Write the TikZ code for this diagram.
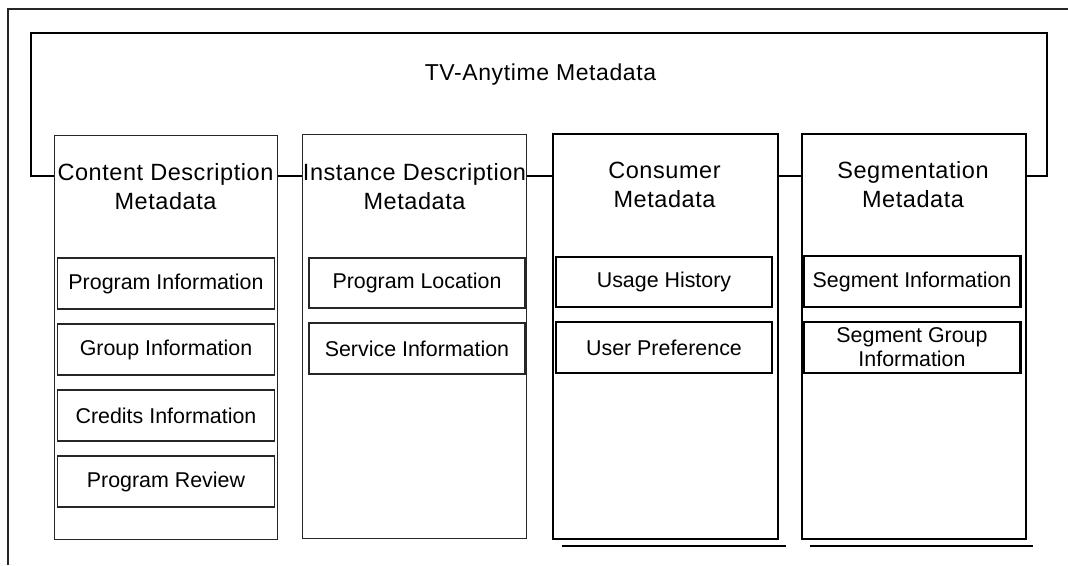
\documentclass[tikz,border=0pt]{standalone}
\usepackage{fontspec}
\setmainfont{Liberation Sans}
\newfontfamily\titlefont[LetterSpace=2.6]{Liberation Sans}
\newfontfamily\headfont[LetterSpace=2.4]{Liberation Sans}
\begin{document}
\begin{tikzpicture}[x=1pt,y=-1pt,
  frameline/.style={line width=1.1pt,draw=black!85},
  link/.style={line width=1.9pt,draw=black},
  thincol/.style={draw=black!85,line width=1.1pt,inner sep=0pt,anchor=north west,minimum width=223pt,minimum height=404pt},
  thickcol/.style={draw=black,line width=2.3pt,inner sep=0pt,anchor=north west,minimum width=225pt,minimum height=405pt},
  head/.style={align=center,inner sep=0pt,font=\headfont\fontsize{23.5}{29}\selectfont},
  thinsub/.style={draw=black!85,line width=1.1pt,inner sep=0pt,minimum width=217pt,minimum height=51pt,align=center,font=\fontsize{21.4}{24}\selectfont},
  thicksub/.style={draw=black,line width=2.3pt,inner sep=0pt,minimum width=216pt,minimum height=51pt,align=center,font=\fontsize{21.4}{24}\selectfont},
  uline/.style={line width=1.5pt,draw=black}
]
\useasboundingbox (0,0) rectangle (1068,565);

% outer frame
\coordinate (fbl) at (8,565);
\coordinate (ftl) at (8,9);
\coordinate (ftr) at (1068,9);
\draw[frameline] (fbl) -- (ftl) -- (ftr);

% title
\node[font=\titlefont\fontsize{23}{27}\selectfont,inner sep=0pt] (title) at (540.5,75) {TV-Anytime Metadata};

% columns
\node[thincol] (c1) at (54,135) {};
\node[thincol,minimum width=224pt] (c2) at (302,134) {};
\node[thickcol] (c3) at (552,133) {};
\node[thickcol,minimum width=224pt] (c4) at (801,133) {};

% headers
\node[head] (h1) at (165.5,187) {Content Description\\Metadata};
\node[head] (h2) at (414.5,187) {Instance Description\\Metadata};
\node[head] (h3) at (664.5,185) {Consumer\\Metadata};
\node[head] (h4) at (913,185) {Segmentation\\Metadata};

% sub boxes
\node[thinsub] (pi) at (166,283.5) {Program Information};
\node[thinsub] (gi) at (166,349.5) {Group Information};
\node[thinsub] (ci) at (166,415.5) {Credits Information};
\node[thinsub] (pr) at (166,481.5) {Program Review};

\node[thinsub,minimum width=216pt,minimum height=50pt] (pl) at (417,283) {Program Location};
\node[thinsub,minimum width=216pt] (si) at (417,348.5) {Service Information};

\node[thicksub,minimum height=50pt] (uh) at (664,282) {Usage History};
\node[thicksub] (up) at (664,347.5) {User Preference};

\node[thicksub,minimum width=217pt] (sgi) at (912,281.5) {Segment Information};
\node[thicksub,minimum width=217pt] (sgg) at (912,347.5) {Segment Group\\Information};

% connectors
\coordinate (lvl) at (0,176);
\coordinate (bl) at (31,33);
\coordinate (br) at (1047,33);
\draw[link] (c1.west |- lvl) -| (bl) -- (br) |- (c4.east |- lvl);
\draw[link] (c1.east |- lvl) -- (c2.west |- lvl);
\draw[link] (c2.east |- lvl) -- (c3.west |- lvl);
\draw[link] (c3.east |- lvl) -- (c4.west |- lvl);

% underlines
\coordinate (u3a) at (562,546);
\coordinate (u3b) at (786,546);
\coordinate (u4a) at (810,546);
\coordinate (u4b) at (1033,546);
\draw[uline] (u3a) -- (u3b);
\draw[uline] (u4a) -- (u4b);
\end{tikzpicture}
\end{document}
